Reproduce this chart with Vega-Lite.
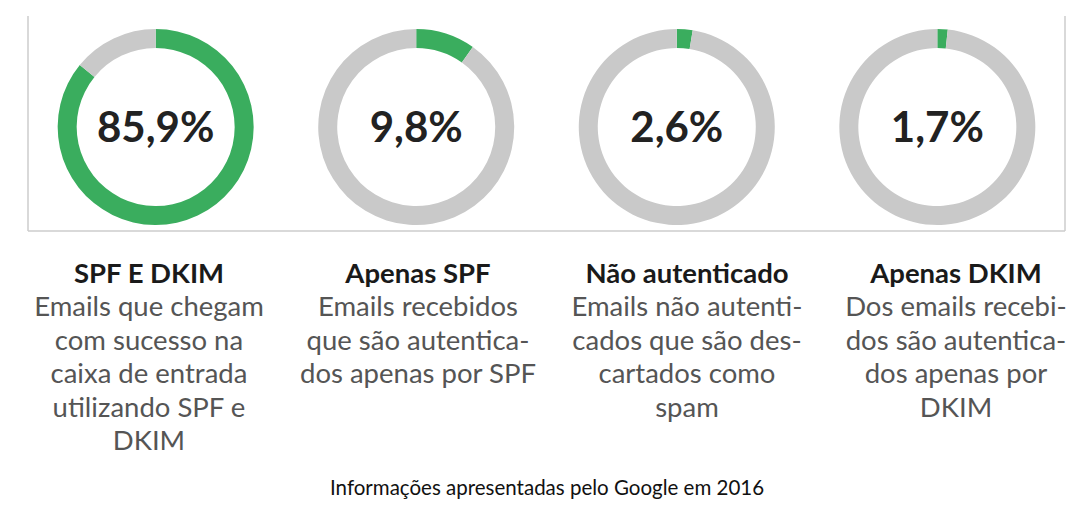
{
  "$schema": "https://vega.github.io/schema/vega-lite/v6.json",
  "background": "white",
  "padding": {"left": 27, "top": 15, "right": 0, "bottom": 0},
  "config": {"view": {"stroke": null}, "font": "Lato"},
  "spacing": 26,
  "title": {"text": "Informações apresentadas pelo Google em 2016", "orient": "bottom", "fontSize": 20.5, "fontWeight": "normal", "color": "#111111", "font": "Lato", "offset": 20, "anchor": "middle"},
  "datasets": {
    "fatias": [
      {"categoria": "SPF E DKIM", "parte": "sim", "inicio": 0, "fim": 85.9},
      {"categoria": "SPF E DKIM", "parte": "nao", "inicio": 85.9, "fim": 100},
      {"categoria": "Apenas SPF", "parte": "sim", "inicio": 0, "fim": 9.8},
      {"categoria": "Apenas SPF", "parte": "nao", "inicio": 9.8, "fim": 100},
      {"categoria": "Não autenticado", "parte": "sim", "inicio": 0, "fim": 2.6},
      {"categoria": "Não autenticado", "parte": "nao", "inicio": 2.6, "fim": 100},
      {"categoria": "Apenas DKIM", "parte": "sim", "inicio": 0, "fim": 1.7},
      {"categoria": "Apenas DKIM", "parte": "nao", "inicio": 1.7, "fim": 100}
    ],
    "rotulos": [
      {"categoria": "SPF E DKIM", "rotulo": "85,9%"},
      {"categoria": "Apenas SPF", "rotulo": "9,8%"},
      {"categoria": "Não autenticado", "rotulo": "2,6%"},
      {"categoria": "Apenas DKIM", "rotulo": "1,7%"}
    ],
    "linhas": [
      {"categoria": "SPF E DKIM", "linha": 0, "tipo": "titulo", "texto": "SPF E DKIM"},
      {"categoria": "SPF E DKIM", "linha": 1, "tipo": "desc", "texto": "Emails que chegam"},
      {"categoria": "SPF E DKIM", "linha": 2, "tipo": "desc", "texto": "com sucesso na"},
      {"categoria": "SPF E DKIM", "linha": 3, "tipo": "desc", "texto": "caixa de entrada"},
      {"categoria": "SPF E DKIM", "linha": 4, "tipo": "desc", "texto": "utilizando SPF e"},
      {"categoria": "SPF E DKIM", "linha": 5, "tipo": "desc", "texto": "DKIM"},
      {"categoria": "Apenas SPF", "linha": 0, "tipo": "titulo", "texto": "Apenas SPF"},
      {"categoria": "Apenas SPF", "linha": 1, "tipo": "desc", "texto": "Emails recebidos"},
      {"categoria": "Apenas SPF", "linha": 2, "tipo": "desc", "texto": "que são autentica-"},
      {"categoria": "Apenas SPF", "linha": 3, "tipo": "desc", "texto": "dos apenas por SPF"},
      {"categoria": "Não autenticado", "linha": 0, "tipo": "titulo", "texto": "Não autenticado"},
      {"categoria": "Não autenticado", "linha": 1, "tipo": "desc", "texto": "Emails não autenti-"},
      {"categoria": "Não autenticado", "linha": 2, "tipo": "desc", "texto": "cados que são des-"},
      {"categoria": "Não autenticado", "linha": 3, "tipo": "desc", "texto": "cartados como"},
      {"categoria": "Não autenticado", "linha": 4, "tipo": "desc", "texto": "spam"},
      {"categoria": "Apenas DKIM", "linha": 0, "tipo": "titulo", "texto": "Apenas DKIM"},
      {"categoria": "Apenas DKIM", "linha": 1, "tipo": "desc", "texto": "Dos emails recebi-"},
      {"categoria": "Apenas DKIM", "linha": 2, "tipo": "desc", "texto": "dos são autentica-"},
      {"categoria": "Apenas DKIM", "linha": 3, "tipo": "desc", "texto": "dos apenas por"},
      {"categoria": "Apenas DKIM", "linha": 4, "tipo": "desc", "texto": "DKIM"}
    ]
  },
  "vconcat": [
    {
      "width": 1037,
      "height": 215,
      "layer": [
        {
          "data": {"name": "fatias"},
          "mark": {"type": "arc", "outerRadius": 98, "innerRadius": 79, "yOffset": 3.5},
          "encoding": {
            "x": {"field": "categoria", "type": "nominal", "scale": {"type": "point", "padding": 0.49, "domain": ["SPF E DKIM", "Apenas SPF", "Não autenticado", "Apenas DKIM"]}, "axis": null},
            "theta": {"field": "inicio", "type": "quantitative", "scale": {"domain": [0, 100]}},
            "theta2": {"field": "fim"},
            "color": {"field": "parte", "type": "nominal", "scale": {"domain": ["sim", "nao"], "range": ["#3aad5e", "#c9c9c9"]}, "legend": null}
          }
        },
        {
          "data": {"name": "rotulos"},
          "mark": {"type": "text", "fontSize": 42, "fontWeight": "bold", "font": "Lato", "color": "#222222", "baseline": "alphabetic", "dy": 18},
          "encoding": {
            "x": {"field": "categoria", "type": "nominal"},
            "text": {"field": "rotulo"}
          }
        },
        {
          "data": {"values": [{"borda": "esquerda"}]},
          "mark": {"type": "rule", "color": "#cccccc", "strokeWidth": 1.5},
          "encoding": {"x": {"value": 0}, "y": {"value": 0}, "y2": {"value": "height"}}
        },
        {
          "data": {"values": [{"borda": "direita"}]},
          "mark": {"type": "rule", "color": "#cccccc", "strokeWidth": 1.5},
          "encoding": {"x": {"value": "width"}, "y": {"value": 0}, "y2": {"value": "height"}}
        },
        {
          "data": {"values": [{"borda": "inferior"}]},
          "mark": {"type": "rule", "color": "#cccccc", "strokeWidth": 1.5},
          "encoding": {"y": {"value": "height"}, "x": {"value": 0}, "x2": {"value": "width"}}
        }
      ]
    },
    {
      "width": 1037,
      "height": 201,
      "data": {"name": "linhas"},
      "encoding": {
        "x": {"field": "categoria", "type": "nominal", "scale": {"type": "point", "padding": 0.4275, "align": 0.526, "domain": ["SPF E DKIM", "Apenas SPF", "Não autenticado", "Apenas DKIM"]}, "axis": null},
        "y": {"field": "linha", "type": "ordinal", "scale": {"type": "point", "padding": 0.5, "domain": [0, 1, 2, 3, 4, 5]}, "axis": null},
        "text": {"field": "texto"}
      },
      "layer": [
        {
          "transform": [{"filter": "datum.tipo === 'titulo'"}],
          "mark": {"type": "text", "fontSize": 27.5, "fontWeight": "bold", "font": "Lato", "color": "#1a1a1a", "baseline": "middle"}
        },
        {
          "transform": [{"filter": "datum.tipo === 'desc'"}],
          "mark": {"type": "text", "fontSize": 27.5, "font": "Lato", "color": "#555555", "baseline": "middle"}
        }
      ]
    }
  ]
}
